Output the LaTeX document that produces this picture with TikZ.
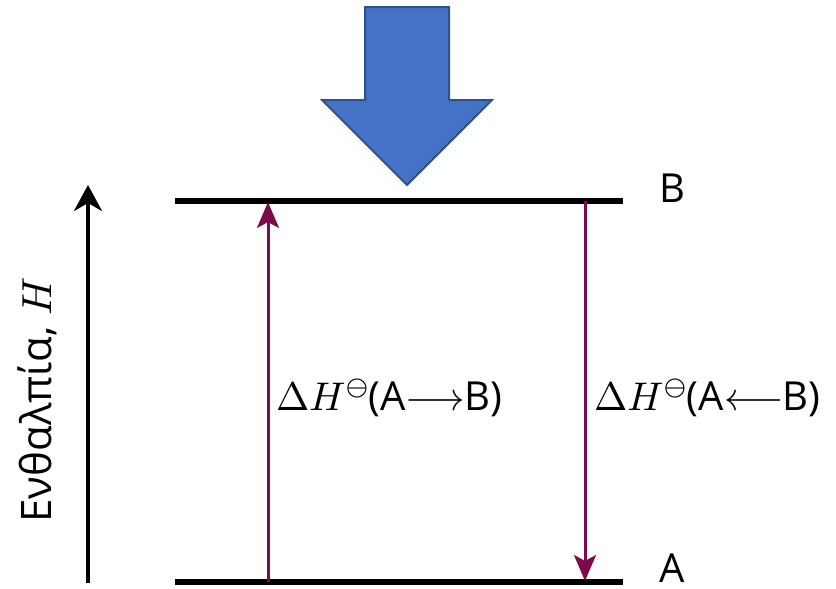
\documentclass[tikz,border=0pt]{standalone}
\usepackage{fontspec}
\usepackage{unicode-math}
\setmainfont{Open Sans}
\setmathfont{Latin Modern Math}
\usepackage{tikz}
\usetikzlibrary{arrows.meta}
\definecolor{enthpurple}{RGB}{125, 10, 75}
\definecolor{pushblue}{RGB}{68, 114, 196}
\definecolor{pushedge}{RGB}{47, 82, 143}

\begin{document}
\begin{tikzpicture}[x=0.5pt, y=-0.5pt,
    level/.style={line width=2.6pt, black},
    change/.style={line width=1.5pt, enthpurple, -{Stealth[length=13pt, width=11pt, inset=3pt]}},
    tag/.style={font=\fontsize{20}{24}\selectfont, inner sep=1pt}]
    \useasboundingbox (0,0) rectangle (836,589);

    % Energy levels
    \coordinate (Bleft) at (175,201);
    \coordinate (Bright) at (623,201);
    \coordinate (Aleft) at (175,582);
    \coordinate (Aright) at (623,582);
    \draw[level] (Bleft) -- (Bright);
    \draw[level] (Aleft) -- (Aright);
    \node[tag] (labB) at (672,188) {B};
    \node[tag] (labA) at (672,568) {A};

    % Enthalpy axis
    \coordinate (axbot) at (88,583);
    \coordinate (axtop) at (88,185);
    \draw[line width=2pt, -{Stealth[length=13pt, width=14pt, inset=4pt]}] (axbot) -- (axtop);
    \node[tag, rotate=90, font=\fontsize{21}{24}\selectfont] (axlab) at (37,400) {Ενθαλπία, $H$};

    % Forward and reverse changes
    \coordinate (fwdA) at (268,582);
    \coordinate (fwdB) at (268,202);
    \coordinate (revB) at (585,201);
    \coordinate (revA) at (585,581);
    \draw[change] (fwdA) -- (fwdB);
    \draw[change] (revB) -- (revA);
    \node[tag, anchor=west] (fwdlab) at (274,398) {$\Delta H^{\ominus}$(A$\longrightarrow$B)};
    \node[tag, anchor=west] (revlab) at (592,398) {$\Delta H^{\ominus}$(A$\longleftarrow$B)};

    % Push arrow
    \filldraw[fill=pushblue, draw=pushedge, line width=1pt]
        (365,7) -- (449,7) -- (449,100) -- (492,100) -- (407,185)
        -- (322,100) -- (365,100) -- cycle;
\end{tikzpicture}
\end{document}
